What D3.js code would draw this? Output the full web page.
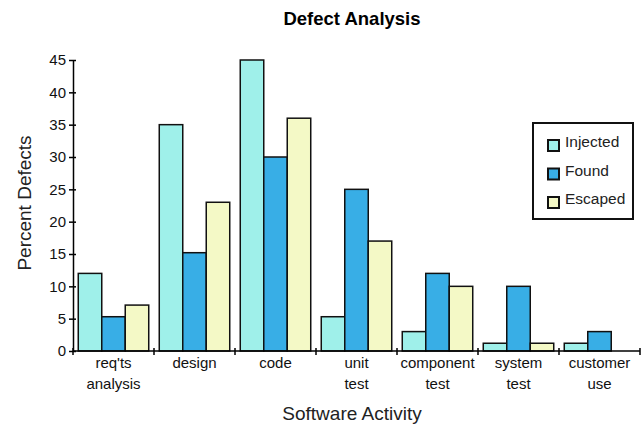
<!DOCTYPE html>
<html lang="en">
<head>
<meta charset="utf-8">
<title>Defect Analysis</title>
<style>
  body { margin: 0; background: #fff; }
  svg { font-family: "Liberation Sans", Arial, sans-serif; }
  .axis path, .axis line { fill: none; stroke: #000; stroke-width: 1.5; }
  .axis text { font-size: 15px; fill: #111; }
</style>
</head>
<body>
<script src="https://cdn.jsdelivr.net/npm/d3@7"></script>
<script>

var categories = [["req'ts", "analysis"], ["design"], ["code"], ["unit", "test"], ["component", "test"], ["system", "test"], ["customer", "use"]];
var series = ["Injected", "Found", "Escaped"];
var injected = [12, 35, 45, 5.3, 3, 1.2, 1.2];
var found = [5.3, 15.2, 30, 25, 12, 10, 3];
var escaped = [7.1, 23, 36, 17, 10, 1.2, 0];
var yTicks = [0, 5, 10, 15, 20, 25, 30, 35, 40, 45];
var colors = ["#9ff0ea", "#38aee6", "#f4f9c6"];

var w = 641, h = 432;
var mLeft = 73, mRight = 640, mTop = 60, mBottom = 351;

var svg = d3.select("body").append("svg")
  .attr("width", w)
  .attr("height", h);

var keys = categories.map(function(d, i) { return i; });

var xScale = d3.scaleBand()
  .domain(keys)
  .range([mLeft, mRight])
  .paddingInner(0.13)
  .paddingOuter(0.065);

var xSub = d3.scaleBand()
  .domain(series)
  .range([0, xScale.bandwidth()]);

var yScale = d3.scaleLinear()
  .domain([0, 45])
  .range([mBottom, mTop]);

var values = [injected, found, escaped];

// bars
var groups = svg.selectAll("g.cat")
  .data(keys)
  .enter().append("g")
  .attr("class", "cat")
  .attr("transform", function(d) { return "translate(" + xScale(d) + ",0)"; });

groups.selectAll("rect")
  .data(function(d) {
    return series.map(function(s, j) { return { s: s, j: j, v: values[j][d] }; })
      .filter(function(e) { return e.v > 0; });
  })
  .enter().append("rect")
  .attr("x", function(d) { return xSub(d.s); })
  .attr("y", function(d) { return yScale(d.v); })
  .attr("width", xSub.bandwidth())
  .attr("height", function(d) { return yScale(0) - yScale(d.v); })
  .attr("fill", function(d) { return colors[d.j]; })
  .attr("stroke", "#111")
  .attr("stroke-width", 1.5);

// y axis
var yAxis = d3.axisLeft(yScale).tickValues(yTicks).tickSize(4).tickSizeOuter(0).tickPadding(3);
var gy = svg.append("g")
  .attr("class", "axis")
  .attr("transform", "translate(" + mLeft + ",0)")
  .call(yAxis);
gy.selectAll(".tick line").attr("x1", 3);

// x axis: ticks on category boundaries
var bounds = keys.map(function(d) { return xScale(d) - xScale.step() * xScale.paddingInner() / 2; });
bounds.push(mRight);
var gx = svg.append("g").attr("class", "axis");
gx.append("line")
  .attr("x1", mLeft).attr("x2", mRight)
  .attr("y1", mBottom).attr("y2", mBottom);
gx.selectAll("line.tk")
  .data(bounds)
  .enter().append("line")
  .attr("class", "tk")
  .attr("x1", function(d) { return d; }).attr("x2", function(d) { return d; })
  .attr("y1", mBottom - 3).attr("y2", mBottom + 4);

gx.selectAll("text.cl")
  .data(keys)
  .enter().append("text")
  .attr("class", "cl")
  .attr("text-anchor", "middle")
  .attr("y", mBottom + 17)
  .each(function(d) {
    var t = d3.select(this);
    categories[d].forEach(function(line, i) {
      t.append("tspan")
        .attr("x", xScale(d) + xScale.bandwidth() / 2)
        .attr("dy", i === 0 ? 0 : 21)
        .text(line);
    });
  });

// title and axis labels
svg.append("text")
  .attr("x", 352).attr("y", 25)
  .attr("text-anchor", "middle")
  .attr("font-size", "18.5px")
  .attr("font-weight", "bold")
  .text("Defect Analysis");

svg.append("text")
  .attr("x", 352).attr("y", 420)
  .attr("text-anchor", "middle")
  .attr("font-size", "19px")
  .attr("fill", "#222")
  .text("Software Activity");

svg.append("text")
  .attr("transform", "translate(31,203) rotate(-90)")
  .attr("text-anchor", "middle")
  .attr("font-size", "19px")
  .attr("fill", "#222")
  .text("Percent Defects");

// legend
var lg = svg.append("g").attr("transform", "translate(533,123)");
lg.append("rect")
  .attr("width", 100).attr("height", 96)
  .attr("fill", "#fff")
  .attr("stroke", "#111")
  .attr("stroke-width", 2);
var items = lg.selectAll("g.it")
  .data(series)
  .enter().append("g")
  .attr("class", "it")
  .attr("transform", function(d, i) { return "translate(15," + (17 + i * 28.5) + ")"; });
items.append("rect")
  .attr("width", 11).attr("height", 11)
  .attr("fill", function(d, i) { return colors[i]; })
  .attr("stroke", "#111")
  .attr("stroke-width", 2);
items.append("text")
  .attr("x", 17).attr("y", 7)
  .attr("font-size", "15.5px")
  .attr("fill", "#222")
  .text(function(d) { return d; });

</script>
</body>
</html>
